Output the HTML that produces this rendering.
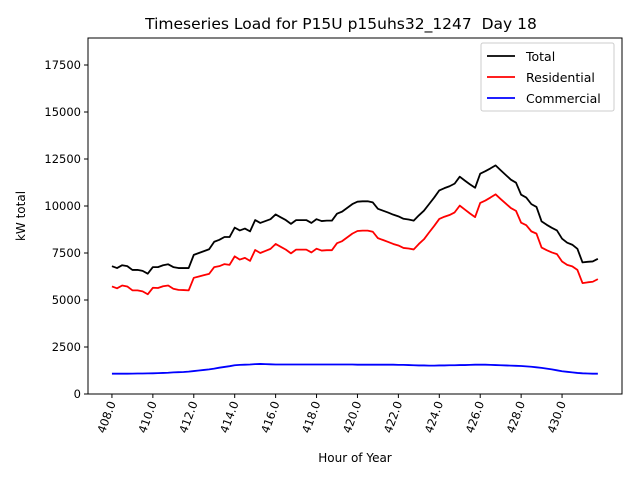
<!DOCTYPE html>
<html><head><meta charset="utf-8">
<style>
body{margin:0;background:#fff;font-family:"Liberation Sans","DejaVu Sans",sans-serif;}
svg text{font-family:"DejaVu Sans","Liberation Sans",sans-serif;}
</style></head>
<body>
<svg id="chart" width="640" height="480" xmlns="http://www.w3.org/2000/svg">
<rect width="640" height="480" fill="#fff"/>
<text x="341" y="29" font-size="15.5" text-anchor="middle" style="white-space:pre">Timeseries Load for P15U p15uhs32_1247  Day 18</text>
<text x="355" y="462" font-size="12" text-anchor="middle">Hour of Year</text>
<text transform="translate(25,216) rotate(-90)" font-size="12" text-anchor="middle">kW total</text>
<g id="ticks"></g>
<g id="series"></g>
<rect x="88" y="38" width="534" height="356" fill="none" stroke="#000" stroke-width="1"/>
<g>
<rect x="481" y="43" width="133" height="68" fill="#fff" fill-opacity="0.8" stroke="#ccc" rx="2"/>
<line x1="487" y1="56" x2="515" y2="56" stroke="#000" stroke-width="1.8"/>
<text x="526" y="61" font-size="12.5">Total</text>
<line x1="487" y1="77" x2="515" y2="77" stroke="#f00" stroke-width="1.8"/>
<text x="526" y="82" font-size="12.5">Residential</text>
<line x1="487" y1="98" x2="515" y2="98" stroke="#00f" stroke-width="1.8"/>
<text x="526" y="103" font-size="12.5">Commercial</text>
</g>
</svg>
<script>
const startHour = 408;
const stepHour = 0.25;
const xTicks = [408,410,412,414,416,418,420,422,424,426,428,430];
const yTicks = [0,2500,5000,7500,10000,12500,15000,17500];
const total = [6800,6700,6850,6800,6600,6600,6550,6400,6750,6750,6850,6900,6750,6700,6700,6700,
7400,7500,7600,7700,8100,8200,8350,8350,8850,8700,8800,8650,9250,9100,9200,9300,
9550,9400,9250,9050,9250,9250,9250,9100,9300,9200,9220,9220,9590,9700,9900,10100,
10230,10250,10250,10190,9850,9750,9650,9540,9450,9320,9280,9220,9500,9750,10100,10450,
10830,10950,11050,11190,11560,11350,11150,10970,11720,11850,12000,12160,11900,11650,11400,11240,
10600,10450,10100,9950,9180,9000,8840,8700,8260,8050,7940,7720,7000,7030,7050,7190];
const residential = [5720,5620,5770,5720,5515,5510,5460,5305,5650,5640,5730,5770,5600,5540,5530,5510,
6180,6250,6320,6390,6750,6800,6910,6870,7320,7150,7240,7080,7660,7500,7610,7720,
7980,7830,7680,7480,7680,7680,7680,7530,7730,7630,7650,7650,8020,8130,8330,8530,
8670,8690,8690,8630,8290,8190,8090,7980,7900,7770,7740,7690,7980,8230,8590,8940,
9310,9430,9520,9660,10020,9810,9600,9410,10160,10290,10450,10620,10370,10130,9890,9740,
9110,8980,8650,8530,7790,7650,7530,7440,7050,6870,6790,6600,5900,5940,5970,6110];
const commercial = [1080,1080,1080,1080,1085,1090,1090,1095,1100,1110,1120,1130,1150,1160,1170,1190,
1220,1250,1280,1310,1350,1400,1440,1480,1530,1550,1560,1570,1590,1600,1590,1580,
1570,1570,1570,1570,1570,1570,1570,1570,1570,1570,1570,1570,1570,1570,1570,1570,
1560,1560,1560,1560,1560,1560,1560,1560,1550,1550,1540,1530,1520,1520,1510,1510,
1520,1520,1530,1530,1540,1540,1550,1560,1560,1560,1550,1540,1530,1520,1510,1500,
1490,1470,1450,1420,1390,1350,1310,1260,1210,1180,1150,1120,1100,1090,1080,1080];

const NS = "http://www.w3.org/2000/svg";
const X0 = 88, X1 = 622, Y0 = 394, Y1 = 38;
const xMin = 406.83, xMax = 432.93, yMin = 0, yMax = 18936;
function xs(h){ return X0 + (h - xMin) / (xMax - xMin) * (X1 - X0); }
function ys(v){ return Y0 - (v - yMin) / (yMax - yMin) * (Y0 - Y1); }

const tg = document.getElementById('ticks');
xTicks.forEach(t => {
  const x = xs(t);
  const l = document.createElementNS(NS,'line');
  l.setAttribute('x1',x); l.setAttribute('x2',x); l.setAttribute('y1',Y0); l.setAttribute('y2',Y0+4);
  l.setAttribute('stroke','#000');
  
  
  tg.appendChild(l);
  const tx = document.createElementNS(NS,'text');
  tx.setAttribute('transform',`translate(${x+4},${Y0+9}) rotate(-70)`);
  tx.setAttribute('font-size','11.5');
  tx.setAttribute('text-anchor','end');
  tx.textContent = t.toFixed(1);
  
  
  tg.appendChild(tx);
});
yTicks.forEach(t => {
  const y = ys(t);
  const l = document.createElementNS(NS,'line');
  l.setAttribute('x1',X0-4); l.setAttribute('x2',X0); l.setAttribute('y1',y); l.setAttribute('y2',y);
  l.setAttribute('stroke','#000');
  
  
  tg.appendChild(l);
  const tx = document.createElementNS(NS,'text');
  tx.setAttribute('x',X0-7); tx.setAttribute('y',y+4);
  tx.setAttribute('font-size','11.5');
  tx.setAttribute('text-anchor','end');
  tx.textContent = String(t);
  
  
  tg.appendChild(tx);
});

const sg = document.getElementById('series');
function drawLine(vals, color, name){
  const pts = vals.map((v,i) => xs(startHour + i*stepHour).toFixed(2) + ',' + ys(v).toFixed(2)).join(' ');
  const p = document.createElementNS(NS,'polyline');
  p.setAttribute('points', pts);
  p.setAttribute('fill','none');
  p.setAttribute('stroke', color);
  p.setAttribute('stroke-width','1.8');
  p.setAttribute('stroke-linejoin','round');
  
  
  sg.appendChild(p);
}
drawLine(total,'#000','total-line');
drawLine(residential,'#f00','residential-line');
drawLine(commercial,'#00f','commercial-line');
</script>
</body></html>
